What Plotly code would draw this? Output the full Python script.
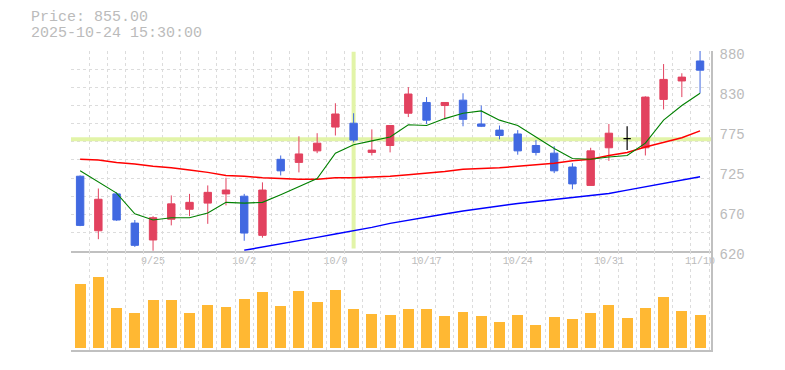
import plotly.graph_objects as go

# ---------------- data ----------------
dates = ["2025-09-18", "2025-09-19", "2025-09-22", "2025-09-24", "2025-09-25",
         "2025-09-26", "2025-09-29", "2025-09-30", "2025-10-01", "2025-10-02",
         "2025-10-03", "2025-10-06", "2025-10-07", "2025-10-08", "2025-10-09",
         "2025-10-10", "2025-10-14", "2025-10-15", "2025-10-16", "2025-10-17",
         "2025-10-20", "2025-10-21", "2025-10-22", "2025-10-23", "2025-10-24",
         "2025-10-27", "2025-10-28", "2025-10-29", "2025-10-30", "2025-10-31",
         "2025-11-04", "2025-11-05", "2025-11-06", "2025-11-07", "2025-11-10"]

open_ = [717, 646, 694, 656, 634, 661, 674, 682, 694, 691,
         640, 739, 735, 750, 781, 786, 748, 757, 799, 813,
         809, 816, 785, 777, 772, 757, 747, 729, 705, 754,
         766, 754, 817, 841, 867]
high = [718, 701, 696, 660, 665, 692, 694, 705, 715, 694,
        709, 744, 769, 773, 812, 799, 778, 783, 833, 820,
        813, 825, 809, 783, 777, 764, 756, 734, 754, 785,
        782, 821, 863, 851, 885]
low = [652, 635, 659, 625, 618, 653, 665, 655, 679, 633,
       637, 718, 722, 747, 770, 761, 744, 748, 794, 785,
       791, 782, 781, 765, 745, 744, 721, 700, 705, 737,
       751, 744, 804, 820, 825]
close = [653, 687, 660, 627, 663, 681, 683, 696, 699, 643,
         699, 724, 746, 760, 798, 764, 751, 783, 824, 790,
         813, 791, 782, 770, 750, 748, 724, 707, 750, 773,
         766, 820, 843, 846, 855]

ma_short = [724, 710, 695, 668, 660, 663, 663, 669, 683, 682,
            683, 693, 703, 714, 747, 758, 763, 768, 784, 783,
            792, 799, 802, 790, 783, 768, 753, 740, 739, 742,
            744, 760, 790, 809, 825]
ma_mid = [739, 738, 735, 733, 730, 728, 725, 722, 718, 717,
          715, 714, 713, 713, 715, 715, 716, 717, 719, 721,
          723, 726, 727, 728, 730, 732, 734, 737, 739, 744,
          748, 755, 761, 767, 776]
ma_long = [None, None, None, None, None, None, None, None, None, 620.5,
           624.5, 628.7, 632.6, 637.4, 641.7, 645.6, 650.4, 655.6, 659.9, 664.2,
           667.7, 671.6, 675.1, 678.5, 681.6, 684.2, 686.8, 688.9, 691.5, 694.6,
           698.9, 703.2, 707.6, 711.9, 716.2]

volume = [64000, 71000, 40000, 35000, 48000, 48000, 35000, 43000, 41000, 49000,
          56000, 42000, 57000, 46000, 58000, 39000, 34000, 33000, 39000, 39000,
          32000, 36000, 32000, 26000, 33000, 23000, 31000, 29000, 35000, 43000,
          30000, 40000, 51000, 37000, 33000]

x_tick_dates = ["2025-09-25", "2025-10-02", "2025-10-09", "2025-10-17",
                "2025-10-24", "2025-10-31", "2025-11-10"]
x_tick_labels = ["9/25", "10/2", "10/9", "10/17", "10/24", "10/31", "11/10"]

y_tick_vals = [620, 672, 724, 776, 828, 880]
y_tick_labels = ["620", "670", "725", "775", "830", "880"]

header_price = "Price: 855.00"
header_time = "2025-10-24 15:30:00"
cross_date = "2025-10-10"
cross_price = 765

# ---------------- figure ----------------
idx = list(range(len(dates)))
UP = "#e2425f"
DOWN = "#4169e1"
GRID = "#dcdcdc"
AXIS = "#c0c0c0"
TXT = "#bbbbbb"
FONT = "Liberation Mono"

normal = [i for i in idx if open_[i] != close[i]]
doji = [i for i in idx if open_[i] == close[i]]

fig = go.Figure()
fig.add_trace(go.Candlestick(
    x=[idx[i] for i in normal],
    open=[open_[i] for i in normal], high=[high[i] for i in normal],
    low=[low[i] for i in normal], close=[close[i] for i in normal],
    increasing=dict(line=dict(color=UP, width=1), fillcolor=UP),
    decreasing=dict(line=dict(color=DOWN, width=1), fillcolor=DOWN),
    whiskerwidth=0, xaxis="x", yaxis="y", showlegend=False, hoverinfo="skip"))
fig.add_trace(go.Candlestick(
    x=[idx[i] for i in doji],
    open=[open_[i] for i in doji], high=[high[i] for i in doji],
    low=[low[i] for i in doji], close=[close[i] for i in doji],
    increasing=dict(line=dict(color="#000000", width=1.2), fillcolor="#000000"),
    decreasing=dict(line=dict(color="#000000", width=1.2), fillcolor="#000000"),
    whiskerwidth=0, xaxis="x", yaxis="y", showlegend=False, hoverinfo="skip"))

fig.add_trace(go.Scatter(x=idx, y=ma_long, mode="lines",
                         line=dict(color="#0000ff", width=1.5),
                         xaxis="x", yaxis="y", showlegend=False, hoverinfo="skip"))
fig.add_trace(go.Scatter(x=idx, y=ma_mid, mode="lines",
                         line=dict(color="#ff0000", width=1.5),
                         xaxis="x", yaxis="y", showlegend=False, hoverinfo="skip"))
fig.add_trace(go.Scatter(x=idx, y=ma_short, mode="lines",
                         line=dict(color="#008000", width=1.1),
                         xaxis="x", yaxis="y", showlegend=False, hoverinfo="skip"))

fig.add_trace(go.Bar(x=idx, y=volume, marker=dict(color="#ffb833", line=dict(width=0)),
                     width=0.6, xaxis="x2", yaxis="y2", showlegend=False,
                     hoverinfo="skip"))

n = len(dates)
x_grid = [i - 0.5 for i in range(n + 1)]
y_grid = [620 + k * 260 / 11 for k in range(12)]
tick_x = [dates.index(d) for d in x_tick_dates]
ci = dates.index(cross_date)

split = 0.332
fig.update_layout(
    width=785, height=370, autosize=False,
    margin=dict(l=71, r=74, t=51, b=20, autoexpand=False),
    paper_bgcolor="white", plot_bgcolor="white",
    boxgap=0.42,
    bargap=0,
    xaxis=dict(domain=[0, 1], anchor="y", range=[-0.5, n - 0.4], automargin=False,
               tickmode="array", tickvals=tick_x, ticktext=x_tick_labels,
               tickfont=dict(family=FONT, size=10, color=TXT),
               ticks="", showgrid=False, zeroline=False,
               showline=True, linecolor=AXIS, linewidth=1.5,
               rangeslider=dict(visible=False),
               minor=dict(tickmode="array", tickvals=x_grid, showgrid=True,
                          gridcolor=GRID, griddash="dot", gridwidth=1, ticks="")),
    yaxis=dict(domain=[split, 1], anchor="x", range=[620, 880], side="right",
               automargin=False,
               tickmode="array", tickvals=y_tick_vals, ticktext=y_tick_labels,
               tickfont=dict(family=FONT, size=14, color=TXT),
               ticks="", ticklabelstandoff=4, ticklabelshift=3,
               showgrid=False, zeroline=False,
               showline=True, linecolor=AXIS, linewidth=1.5,
               minor=dict(tickmode="array", tickvals=y_grid, showgrid=True,
                          gridcolor=GRID, griddash="dot", gridwidth=1, ticks="")),
    xaxis2=dict(domain=[0, 1], anchor="y2", matches="x", range=[-0.5, n - 0.4],
                automargin=False,
                showticklabels=False, ticks="", showgrid=False, zeroline=False,
                showline=True, linecolor=AXIS, linewidth=1.5,
                minor=dict(tickmode="array", tickvals=x_grid, showgrid=True,
                           gridcolor=GRID, griddash="dot", gridwidth=1, ticks="")),
    yaxis2=dict(domain=[0, split], anchor="x2", range=[-2000, 97300], side="right",
                automargin=False,
                showticklabels=False, ticks="", showgrid=False, zeroline=False,
                showline=True, linecolor=AXIS, linewidth=1.5),
    shapes=[
        dict(type="line", xref="x", yref="y", x0=ci, x1=ci, y0=623, y1=879,
             line=dict(color="#e2f4a8", width=4), layer="between"),
        dict(type="line", xref="x", yref="y", x0=-0.5, x1=n - 0.4,
             y0=cross_price, y1=cross_price,
             line=dict(color="#e2f4a8", width=4), layer="between"),
    ],
    annotations=[
        dict(text=header_price, xref="paper", yref="paper", x=-0.065, y=1.112,
             xanchor="left", yanchor="middle", showarrow=False,
             font=dict(family=FONT, size=15, color=TXT)),
        dict(text=header_time, xref="paper", yref="paper", x=-0.065, y=1.058,
             xanchor="left", yanchor="middle", showarrow=False,
             font=dict(family=FONT, size=15, color=TXT)),
    ],
)

fig.write_html("out.html",
               config=dict(displayModeBar=False, responsive=False),
               post_script="document.documentElement.style.margin='0';"
                           "document.body.style.margin='0';"
                           "document.body.style.padding='0';"
                           "document.body.style.overflow='hidden';")
